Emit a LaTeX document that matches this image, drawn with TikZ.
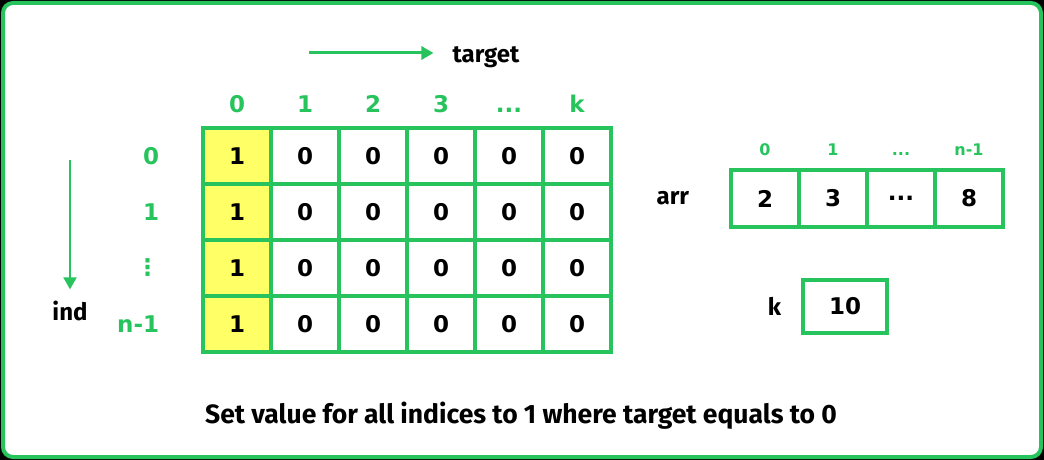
\documentclass[tikz,border=0pt]{standalone}
\usepackage{fontspec}
\setmainfont{Fira Sans}
\newfontfamily\numfont{DejaVu Sans}
\usetikzlibrary{arrows.meta,positioning}
\definecolor{gfg}{RGB}{39,196,94}
\definecolor{cellyellow}{RGB}{255,255,102}
\tikzset{
    cell/.style={draw=gfg, line width=3.5pt, minimum width=68pt, minimum height=56pt, inner sep=0pt, font=\numfont\bfseries\fontsize{23}{23}\selectfont},
    idx/.style={text=gfg, inner sep=0pt, font=\numfont\bfseries\fontsize{23}{23}\selectfont},
    smallidx/.style={text=gfg, inner sep=0pt, font=\numfont\bfseries\fontsize{16}{16}\selectfont},
    word/.style={inner sep=0pt, font=\bfseries\fontsize{24}{24}\selectfont},
    arrow/.style={gfg, -{Triangle[length=12pt,width=13pt]}},
}
\begin{document}
\begin{tikzpicture}[x=1pt, y=-1pt]
    \fill[black] (0,0) rectangle (1044,460);
    \draw[gfg, line width=4pt, fill=white, rounded corners=10pt] (3,3) rectangle (1041,457);
    \useasboundingbox (0,0) rectangle (1044,460);
    % tabella
    \foreach \r in {0,...,3} {
        \node[cell, fill=cellyellow] (c\r-0) at (237, 156+56*\r) {1};
        \foreach \c in {1,...,5} \node[cell] (c\r-\c) at (237+68*\c, 156+56*\r) {0};
    }
    \foreach \c in {0,...,3} \node[idx, anchor=base] (h\c) at (237+68*\c, 112) {\c};
    \node[idx, anchor=base] (h4) at (509, 112) {...};
    \node[idx, anchor=base] (h5) at (577, 112) {k};
    \node[idx, left=42pt of c0-0] (r0) {0};
    \node[idx, left=42pt of c1-0] (r1) {1};
    \node[idx, left=42pt of c2-0] (r2) {⋮};
    \node[idx, left=42pt of c3-0] (r3) {n-1};
    % frecce
    \node[word, anchor=base] (tgt) at (486, 63) {target};
    \coordinate (ts) at (309, 53);
    \draw[arrow, line width=3pt, shorten >=19pt] (ts) -- (ts -| tgt.west);
    \node[word, anchor=base] (ind) at (70, 320) {ind};
    \coordinate (is) at (70, 160);
    \draw[arrow, line width=2pt, shorten >=11pt] (is) -- (ind.north);
    % arr e k
    \node[cell, minimum height=57pt] (a0) at (765, 198.5) {2};
    \node[cell, minimum height=57pt] (a1) at (833, 198.5) {3};
    \node[cell, minimum height=57pt] (a2) at (901, 198.5) {...};
    \node[cell, minimum height=57pt] (a3) at (969, 198.5) {8};
    \node[smallidx, anchor=base] (i0) at (765, 155) {0};
    \node[smallidx, anchor=base] (i1) at (833, 155) {1};
    \node[smallidx, anchor=base] (i2) at (901, 155) {...};
    \node[smallidx, anchor=base] (i3) at (969, 155) {n-1};
    \node[word, left=40pt of a0] (arr) {arr};
    \node[cell, minimum width=84pt, minimum height=53pt] (kbox) at (845, 306.5) {10};
    \node[word, left=20pt of kbox] (klab) {k};
    \node[word, anchor=base, font=\bfseries\fontsize{26.5}{26.5}\selectfont] (note) at (521, 423) {Set value for all indices to 1 where target equals to 0};
\end{tikzpicture}
\end{document}
